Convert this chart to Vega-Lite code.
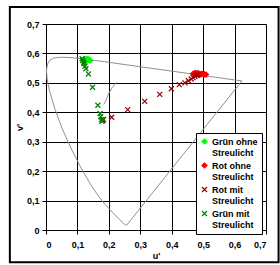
{
  "$schema": "https://vega.github.io/schema/vega-lite/v6.json",
  "width": 220,
  "height": 206,
  "autosize": "none",
  "padding": {"left": 46, "top": 24, "right": 14, "bottom": 35},
  "background": "white",
  "config": {
    "font": "Liberation Sans",
    "view": {"stroke": "#808080", "strokeWidth": 1},
    "axis": {
      "labelFont": "Liberation Sans",
      "labelFontWeight": "bold",
      "labelFontSize": 9,
      "labelColor": "black",
      "labelOverlap": false,
      "titleFont": "Liberation Sans",
      "titleFontWeight": "bold",
      "titleFontSize": 9,
      "titleColor": "black",
      "domainColor": "black",
      "tickColor": "black",
      "tickSize": 4
    },
    "axisX": {"grid": true, "gridColor": "black", "gridOpacity": 1, "gridWidth": 1, "gridDash": []},
    "axisY": {"grid": true, "gridColor": "black", "gridOpacity": 1, "gridWidth": 1, "gridDash": []},
    "legend": {
      "orient": "none",
      "legendX": 150,
      "legendY": 109,
      "strokeColor": "black",
      "fillColor": "white",
      "padding": 4,
      "labelFont": "Liberation Sans",
      "labelFontWeight": "bold",
      "labelFontSize": 9,
      "labelColor": "black",
      "labelLimit": 200,
      "symbolSize": 25,
      "symbolStrokeWidth": 1.2,
      "rowPadding": 2,
      "labelOffset": 3
    }
  },
  "datasets": {
    "locus": [
      {"w": 380, "u": 0.2568, "v": 0.0166},
      {"w": 420, "u": 0.2522, "v": 0.0169},
      {"w": 440, "u": 0.2347, "v": 0.035},
      {"w": 450, "u": 0.2161, "v": 0.0549},
      {"w": 460, "u": 0.1877, "v": 0.0871},
      {"w": 465, "u": 0.169, "v": 0.112},
      {"w": 470, "u": 0.1441, "v": 0.151},
      {"w": 475, "u": 0.1147, "v": 0.2044},
      {"w": 480, "u": 0.0828, "v": 0.2708},
      {"w": 485, "u": 0.0521, "v": 0.3427},
      {"w": 490, "u": 0.0282, "v": 0.4117},
      {"w": 495, "u": 0.0119, "v": 0.4698},
      {"w": 500, "u": 0.0035, "v": 0.5131},
      {"w": 505, "u": 0.0014, "v": 0.5432},
      {"w": 510, "u": 0.0046, "v": 0.5638},
      {"w": 515, "u": 0.0123, "v": 0.577},
      {"w": 520, "u": 0.0231, "v": 0.5837},
      {"w": 525, "u": 0.036, "v": 0.5861},
      {"w": 530, "u": 0.0501, "v": 0.5868},
      {"w": 535, "u": 0.0643, "v": 0.5865},
      {"w": 540, "u": 0.0792, "v": 0.5856},
      {"w": 550, "u": 0.1127, "v": 0.5821},
      {"w": 560, "u": 0.1531, "v": 0.5766},
      {"w": 570, "u": 0.2026, "v": 0.5694},
      {"w": 580, "u": 0.2623, "v": 0.5604},
      {"w": 590, "u": 0.3315, "v": 0.5501},
      {"w": 600, "u": 0.4035, "v": 0.5393},
      {"w": 610, "u": 0.4692, "v": 0.5296},
      {"w": 620, "u": 0.5203, "v": 0.5219},
      {"w": 640, "u": 0.583, "v": 0.5125},
      {"w": 650, "u": 0.6005, "v": 0.5099},
      {"w": 700, "u": 0.6234, "v": 0.5065},
      {"w": 800, "u": 0.2568, "v": 0.0166}
    ],
    "planck": [
      {"k": 1, "u": 0.184, "v": 0.427},
      {"k": 2, "u": 0.1903, "v": 0.44},
      {"k": 3, "u": 0.2004, "v": 0.4656},
      {"k": 4, "u": 0.2114, "v": 0.4847},
      {"k": 5, "u": 0.2251, "v": 0.5016}
    ],
    "pts": [
      {"s": "Grün ohne Streulicht", "u": 0.118, "v": 0.578},
      {"s": "Grün ohne Streulicht", "u": 0.122, "v": 0.581},
      {"s": "Grün ohne Streulicht", "u": 0.126, "v": 0.579},
      {"s": "Grün ohne Streulicht", "u": 0.129, "v": 0.582},
      {"s": "Grün ohne Streulicht", "u": 0.132, "v": 0.578},
      {"s": "Grün ohne Streulicht", "u": 0.135, "v": 0.58},
      {"s": "Grün ohne Streulicht", "u": 0.138, "v": 0.578},
      {"s": "Grün ohne Streulicht", "u": 0.141, "v": 0.576},
      {"s": "Grün ohne Streulicht", "u": 0.125, "v": 0.574},
      {"s": "Grün ohne Streulicht", "u": 0.13, "v": 0.575},
      {"s": "Rot ohne Streulicht", "u": 0.468, "v": 0.531},
      {"s": "Rot ohne Streulicht", "u": 0.474, "v": 0.534},
      {"s": "Rot ohne Streulicht", "u": 0.479, "v": 0.532},
      {"s": "Rot ohne Streulicht", "u": 0.484, "v": 0.533},
      {"s": "Rot ohne Streulicht", "u": 0.489, "v": 0.531},
      {"s": "Rot ohne Streulicht", "u": 0.494, "v": 0.53},
      {"s": "Rot ohne Streulicht", "u": 0.499, "v": 0.531},
      {"s": "Rot ohne Streulicht", "u": 0.504, "v": 0.529},
      {"s": "Rot ohne Streulicht", "u": 0.509, "v": 0.528},
      {"s": "Rot ohne Streulicht", "u": 0.488, "v": 0.527},
      {"s": "Rot ohne Streulicht", "u": 0.478, "v": 0.528},
      {"s": "Rot mit Streulicht", "u": 0.18, "v": 0.372},
      {"s": "Rot mit Streulicht", "u": 0.183, "v": 0.376},
      {"s": "Rot mit Streulicht", "u": 0.209, "v": 0.383},
      {"s": "Rot mit Streulicht", "u": 0.26, "v": 0.409},
      {"s": "Rot mit Streulicht", "u": 0.314, "v": 0.437},
      {"s": "Rot mit Streulicht", "u": 0.362, "v": 0.461},
      {"s": "Rot mit Streulicht", "u": 0.399, "v": 0.48},
      {"s": "Rot mit Streulicht", "u": 0.424, "v": 0.494},
      {"s": "Rot mit Streulicht", "u": 0.442, "v": 0.5},
      {"s": "Rot mit Streulicht", "u": 0.453, "v": 0.507},
      {"s": "Rot mit Streulicht", "u": 0.462, "v": 0.513},
      {"s": "Rot mit Streulicht", "u": 0.468, "v": 0.518},
      {"s": "Rot mit Streulicht", "u": 0.474, "v": 0.522},
      {"s": "Rot mit Streulicht", "u": 0.479, "v": 0.526},
      {"s": "Rot mit Streulicht", "u": 0.484, "v": 0.528},
      {"s": "Grün mit Streulicht", "u": 0.115, "v": 0.582},
      {"s": "Grün mit Streulicht", "u": 0.117, "v": 0.576},
      {"s": "Grün mit Streulicht", "u": 0.12, "v": 0.57},
      {"s": "Grün mit Streulicht", "u": 0.121, "v": 0.565},
      {"s": "Grün mit Streulicht", "u": 0.124, "v": 0.556},
      {"s": "Grün mit Streulicht", "u": 0.127, "v": 0.548},
      {"s": "Grün mit Streulicht", "u": 0.135, "v": 0.53},
      {"s": "Grün mit Streulicht", "u": 0.148, "v": 0.485},
      {"s": "Grün mit Streulicht", "u": 0.165, "v": 0.424},
      {"s": "Grün mit Streulicht", "u": 0.172, "v": 0.396},
      {"s": "Grün mit Streulicht", "u": 0.174, "v": 0.385},
      {"s": "Grün mit Streulicht", "u": 0.176, "v": 0.375},
      {"s": "Grün mit Streulicht", "u": 0.178, "v": 0.369},
      {"s": "Grün mit Streulicht", "u": 0.181, "v": 0.374}
    ]
  },
  "encoding": {
    "x": {"type": "quantitative", "scale": {"domain": [0, 0.7], "nice": false, "zero": false},
      "axis": {"title": "u'", "grid": true, "gridColor": "black", "zindex": 0, "values": [0, 0.1, 0.2, 0.3, 0.4, 0.5, 0.6, 0.7], "labelExpr": "datum.value == 0 ? '0' : replace(format(datum.value, '.1f'), '.', ',')", "labelPadding": 6, "titlePadding": 2}},
    "y": {"type": "quantitative", "scale": {"domain": [0, 0.7], "nice": false, "zero": false},
      "axis": {"title": "v'", "grid": true, "gridColor": "black", "zindex": 0, "values": [0, 0.1, 0.2, 0.3, 0.4, 0.5, 0.6, 0.7], "labelExpr": "datum.value == 0 ? '0' : replace(format(datum.value, '.1f'), '.', ',')", "labelPadding": 3, "titlePadding": 2}}
  },
  "layer": [
    {
      "data": {"name": "locus"},
      "mark": {"type": "line", "color": "#909090", "strokeWidth": 1, "clip": true},
      "encoding": {
        "x": {"field": "u"},
        "y": {"field": "v"},
        "order": {"field": "w", "type": "quantitative"}
      }
    },
    {
      "data": {"name": "planck"},
      "mark": {"type": "line", "color": "#909090", "strokeWidth": 1},
      "encoding": {
        "x": {"field": "u"},
        "y": {"field": "v"},
        "order": {"field": "k", "type": "quantitative"}
      }
    },
    {
      "data": {"name": "pts"},
      "mark": {"type": "point", "filled": true, "size": 25, "strokeWidth": 1.2, "opacity": 1},
      "encoding": {
        "x": {"field": "u"},
        "y": {"field": "v"},
        "color": {"field": "s", "type": "nominal", "title": null,
          "scale": {"domain": ["Grün ohne Streulicht", "Rot ohne Streulicht", "Rot mit Streulicht", "Grün mit Streulicht"], "range": ["#00ff00", "#ff0000", "#990000", "#008000"]},
          "legend": {"title": null, "labelExpr": "split(replace(datum.label, ' Streulicht', '|Streulicht'), '|')"}},
        "stroke": {"field": "s", "type": "nominal", "title": null,
          "scale": {"domain": ["Grün ohne Streulicht", "Rot ohne Streulicht", "Rot mit Streulicht", "Grün mit Streulicht"], "range": ["#00ff00", "#ff0000", "#990000", "#008000"]},
          "legend": {"title": null, "labelExpr": "split(replace(datum.label, ' Streulicht', '|Streulicht'), '|')"}},
        "shape": {"field": "s", "type": "nominal", "title": null,
          "scale": {"domain": ["Grün ohne Streulicht", "Rot ohne Streulicht", "Rot mit Streulicht", "Grün mit Streulicht"], "range": ["diamond", "diamond", "M-1,-1L1,1M-1,1L1,-1", "M-1,-1L1,1M-1,1L1,-1"]},
          "legend": {"title": null, "labelExpr": "split(replace(datum.label, ' Streulicht', '|Streulicht'), '|')"}}
      }
    },
    {
      "data": {"values": [{"f": 1}]},
      "mark": {"type": "rect", "fill": "transparent", "stroke": "black", "strokeWidth": 2},
      "encoding": {
        "x": {"datum": -0.115},
        "x2": {"datum": 0.74},
        "y": {"datum": 0.758},
        "y2": {"datum": -0.11}
      }
    }
  ]
}
